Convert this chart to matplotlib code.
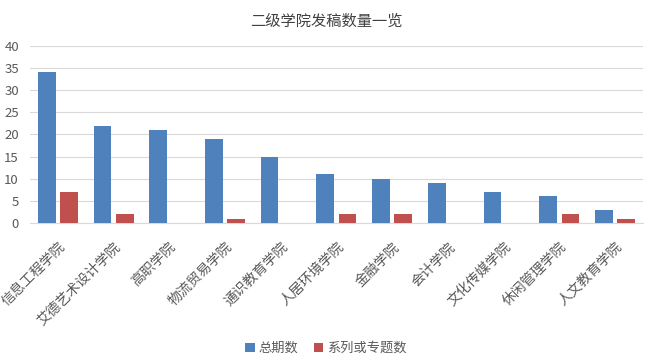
import numpy as np
import matplotlib
matplotlib.use('Agg')
import matplotlib.pyplot as plt

plt.rcParams['font.family'] = ['Noto Sans CJK SC', 'DejaVu Sans']

colleges = ['信息工程学院', '艾德艺术设计学院', '高职学院', '物流贸易学院', '通识教育学院',
            '人居环境学院', '金融学院', '会计学院', '文化传媒学院', '休闲管理学院', '人文教育学院']
total_issues = [34, 22, 21, 19, 15, 11, 10, 9, 7, 6, 3]
series_issues = [7, 2, 0, 1, 0, 2, 2, 0, 0, 2, 1]
series_names = ['总期数', '系列或专题数']
yticks = [0, 5, 10, 15, 20, 25, 30, 35, 40]

blue = '#4F81BD'
red = '#C0504D'
text_color = '#595959'

fig = plt.figure(figsize=(6.52, 3.58), dpi=100)
ax = fig.add_axes([0.046, 0.377, 0.94, 0.495])

x = np.arange(len(colleges))
w = 0.32
ax.bar(x - w / 2 - 0.04, total_issues, w, color=blue, label=series_names[0], zorder=3)
ax.bar(x + w / 2 + 0.04, series_issues, w, color=red, label=series_names[1], zorder=3)

ax.set_xlim(-0.5, len(colleges) - 0.5)
ax.set_ylim(0, 40)
ax.set_yticks(yticks)
ax.tick_params(axis='y', length=0, labelsize=9.5, labelcolor=text_color, pad=8)
ax.set_xticks(x)
ax.set_xticklabels(colleges, rotation=45, ha='right', rotation_mode='anchor',
                   fontsize=10, color=text_color)
ax.tick_params(axis='x', length=0, pad=12)
ax.grid(axis='y', color='#d9d9d9', linewidth=0.8, zorder=0)
for s in ['top', 'right', 'left']:
    ax.spines[s].set_visible(False)
ax.spines['bottom'].set_color('#d9d9d9')

fig.suptitle('二级学院发稿数量一览', y=0.965, fontsize=11, color='#404040')
fig.legend(loc='lower center', ncol=2, bbox_to_anchor=(0.5, -0.025), frameon=False,
           fontsize=9.5, handlelength=0.7, handleheight=0.7, handletextpad=0.3,
           columnspacing=1.2, labelcolor=text_color)

fig.savefig('out.png', dpi=100)
